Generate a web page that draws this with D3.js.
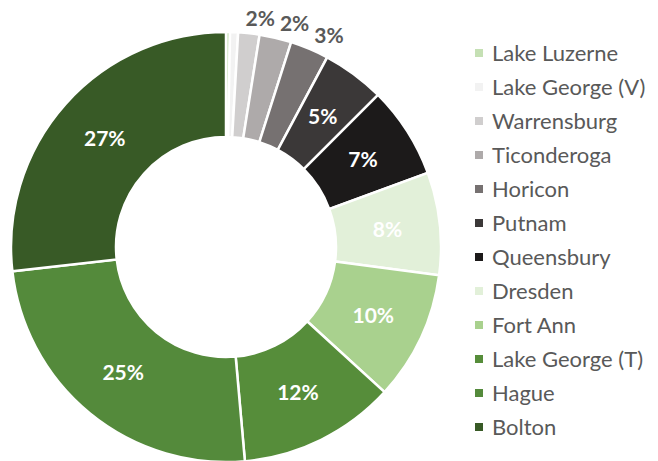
<!DOCTYPE html>
<html>
<head>
<meta charset="utf-8">
<script src="https://cdn.jsdelivr.net/npm/d3@7"></script>
<style>
  body { margin: 0; background: #fff; }
  svg { display: block; font-family: Lato, "Open Sans", sans-serif; }
</style>
</head>
<body>
<svg id="chart" width="658" height="461"></svg>
<script>
const towns = ['Lake Luzerne', 'Lake George (V)', 'Warrensburg', 'Ticonderoga', 'Horicon', 'Putnam',
  'Queensbury', 'Dresden', 'Fort Ann', 'Lake George (T)', 'Hague', 'Bolton'];
const shares = [0.3, 0.6, 1.6, 2.4, 2.9, 4.7, 6.9, 7.7, 9.7, 11.8, 24.6, 26.8];
const colors = ['#c5e0b4', '#f2f2f2', '#d0cece', '#aeaaaa', '#767171', '#3b3838',
  '#1c1a1a', '#e2f0d9', '#a9d18e', '#568d3a', '#548a3b', '#385a26'];
// labels outside the ring for the thin grey slices
const outside = ['Warrensburg', 'Ticonderoga', 'Horicon'];

const svg = d3.select('#chart');
const cx = 226, cy = 247;
const outerR = 215, innerR = 110;

const data = towns.map((t, i) => ({ town: t, value: shares[i], color: colors[i] }));

const pie = d3.pie().sort(null).value(d => d.value);
const arc = d3.arc().innerRadius(innerR).outerRadius(outerR);
const labelArc = d3.arc().innerRadius((innerR + outerR) / 2).outerRadius((innerR + outerR) / 2);
const outArc = d3.arc().innerRadius(230).outerRadius(230);

const g = svg.append('g').attr('transform', `translate(${cx},${cy})`);
const arcs = pie(data);

g.selectAll('path')
  .data(arcs)
  .enter()
  .append('path')
  .attr('d', arc)
  .attr('fill', d => d.data.color)
  .attr('stroke', '#fff')
  .attr('stroke-width', 2.5);

// inside labels
g.selectAll('text.inside')
  .data(arcs.filter(d => Math.round(d.data.value) >= 2 && !outside.includes(d.data.town)))
  .enter()
  .append('text')
  .attr('class', 'inside')
  .attr('transform', d => `translate(${labelArc.centroid(d)})`)
  .attr('text-anchor', 'middle')
  .attr('dy', '0.36em')
  .attr('fill', '#fff')
  .attr('font-weight', 'bold')
  .attr('font-size', 21)
  .text(d => Math.round(d.data.value) + '%');

// outside labels, pushed apart so they don't touch
const outLabels = g.selectAll('text.outside')
  .data(arcs.filter(d => outside.includes(d.data.town)))
  .enter()
  .append('text')
  .attr('class', 'outside')
  .attr('text-anchor', 'start')
  .attr('dy', '0.36em')
  .attr('fill', '#595959')
  .attr('font-weight', 'bold')
  .attr('font-size', 21)
  .text(d => Math.round(d.data.value) + '%');

let prevRight = -Infinity;
outLabels.each(function(d) {
  const [x, y] = outArc.centroid(d);
  let left = Math.max(x - 5, prevRight + 5);
  prevRight = left + this.getComputedTextLength();
  d3.select(this).attr('x', left).attr('y', y);
});

// legend
const legendY = d3.scalePoint().domain(towns).range([53, 427]);
const legend = svg.append('g').attr('class', 'legend');

legend.selectAll('rect')
  .data(data)
  .enter()
  .append('rect')
  .attr('x', 475)
  .attr('y', d => legendY(d.town) - 4)
  .attr('width', 8)
  .attr('height', 8)
  .attr('fill', d => d.color);

legend.selectAll('text')
  .data(data)
  .enter()
  .append('text')
  .attr('x', 492)
  .attr('y', d => legendY(d.town))
  .attr('dy', '0.36em')
  .attr('fill', '#595959')
  .attr('font-size', 22)
  .text(d => d.town);
</script>
</body>
</html>
